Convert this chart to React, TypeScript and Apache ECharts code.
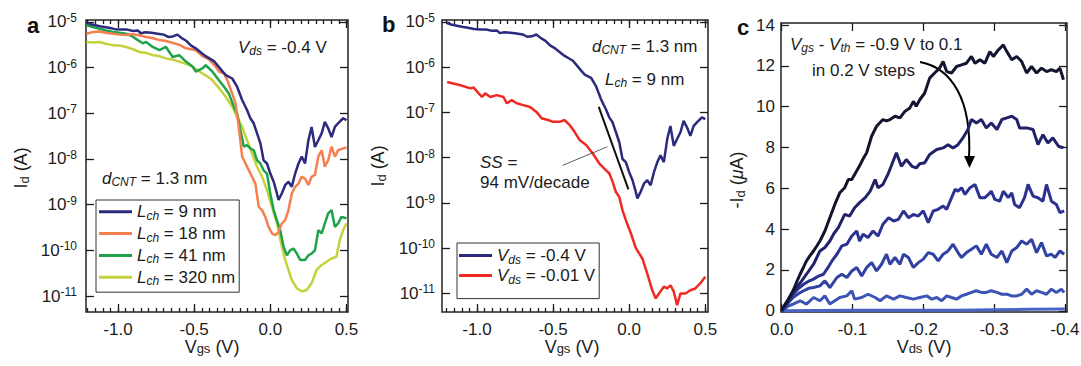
import React, { useEffect, useRef } from 'react';
import * as echarts from 'echarts';

const FONT = '"Liberation Sans", Arial, Helvetica, sans-serif';

// ---------- Panel a: log10(I_d / A) vs V_gs (V), V_ds = -0.4 V ----------
const lch9: [number, number][] = [
  [-1.2, -5.02], [-1.17, -5.06], [-1.14, -5.08], [-1.1, -5.11], [-1.06, -5.13], [-1.02, -5.16], [-0.98, -5.17],
  [-0.94, -5.17], [-0.9, -5.2], [-0.87, -5.19], [-0.85, -5.25], [-0.82, -5.23], [-0.78, -5.24], [-0.74, -5.26],
  [-0.7, -5.28], [-0.67, -5.33], [-0.64, -5.32], [-0.61, -5.28], [-0.58, -5.36], [-0.55, -5.42], [-0.52, -5.52],
  [-0.49, -5.58], [-0.46, -5.66], [-0.43, -5.74], [-0.4, -5.8], [-0.37, -5.86], [-0.34, -5.98], [-0.31, -6.1],
  [-0.29, -6.17], [-0.25, -6.24], [-0.218, -6.42], [-0.185, -6.71], [-0.153, -6.93], [-0.131, -7.11],
  [-0.109, -7.22], [-0.087, -7.44], [-0.065, -7.66], [-0.044, -8.03], [-0.022, -8.1], [0, -8.32], [0.022, -8.5],
  [0.043, -8.75], [0.054, -8.9], [0.076, -8.75], [0.098, -8.57], [0.119, -8.5], [0.141, -8.61], [0.163, -8.32],
  [0.185, -8.1], [0.206, -7.95], [0.228, -8.1], [0.25, -7.59], [0.271, -7.3], [0.293, -7.74], [0.315, -7.59],
  [0.337, -7.44], [0.358, -7.19], [0.38, -7.33], [0.402, -7.52], [0.424, -7.3], [0.445, -7.22], [0.478, -7.11],
  [0.5, -7.15],
];
const lch18: [number, number][] = [
  [-1.207, -5.26], [-1.16, -5.22], [-1.12, -5.21], [-1.08, -5.24], [-1.033, -5.26], [-0.99, -5.28], [-0.946, -5.29],
  [-0.91, -5.27], [-0.87, -5.29], [-0.815, -5.33], [-0.77, -5.36], [-0.728, -5.4], [-0.685, -5.42], [-0.641, -5.46],
  [-0.6, -5.5], [-0.554, -5.58], [-0.52, -5.6], [-0.489, -5.62], [-0.446, -5.75], [-0.402, -5.82], [-0.359, -5.98],
  [-0.337, -6.09], [-0.304, -6.13], [-0.282, -6.28], [-0.25, -6.57], [-0.228, -6.79], [-0.207, -7.3],
  [-0.185, -7.95], [-0.163, -8.1], [-0.141, -8.25], [-0.12, -8.39], [-0.098, -8.54], [-0.076, -9.05],
  [-0.054, -9.12], [-0.033, -9.27], [-0.011, -9.49], [0.011, -9.63], [0.033, -9.67], [0.054, -9.6], [0.076, -9.41],
  [0.098, -9.34], [0.119, -9.12], [0.141, -8.76], [0.163, -8.61], [0.185, -8.54], [0.206, -8.39], [0.228, -8.43],
  [0.25, -8.57], [0.271, -8.39], [0.293, -8.35], [0.315, -7.95], [0.337, -7.81], [0.358, -8.17], [0.38, -8.03],
  [0.402, -7.73], [0.424, -7.95], [0.445, -7.81], [0.478, -7.77], [0.5, -7.75],
];
const lch41: [number, number][] = [
  [-1.207, -5.07], [-1.16, -5.12], [-1.12, -5.15], [-1.08, -5.19], [-1.033, -5.22], [-0.99, -5.24], [-0.946, -5.26],
  [-0.9, -5.33], [-0.87, -5.4], [-0.837, -5.47], [-0.815, -5.44], [-0.772, -5.55], [-0.728, -5.62], [-0.685, -5.55],
  [-0.641, -5.77], [-0.598, -5.73], [-0.554, -5.87], [-0.511, -5.98], [-0.489, -6.09], [-0.446, -6.02],
  [-0.424, -5.95], [-0.38, -6.09], [-0.337, -6.28], [-0.304, -6.42], [-0.272, -6.57], [-0.239, -6.86],
  [-0.218, -7.0], [-0.196, -7.37], [-0.174, -7.73], [-0.153, -7.7], [-0.131, -7.77], [-0.109, -7.81],
  [-0.087, -8.03], [-0.065, -8.1], [-0.044, -8.25], [-0.022, -8.32], [0, -8.76], [0.022, -9.12], [0.043, -9.34],
  [0.065, -9.56], [0.087, -9.92], [0.109, -10.11], [0.13, -10.0], [0.152, -9.96], [0.174, -10.07], [0.196, -10.21],
  [0.228, -10.21], [0.25, -10.11], [0.271, -10.07], [0.293, -10.0], [0.315, -9.56], [0.337, -9.63], [0.358, -9.41],
  [0.38, -9.19], [0.402, -9.12], [0.424, -9.49], [0.445, -9.41], [0.467, -9.27], [0.5, -9.3],
];
const lch320: [number, number][] = [
  [-1.207, -5.44], [-1.16, -5.45], [-1.12, -5.44], [-1.08, -5.48], [-1.033, -5.51], [-0.99, -5.52], [-0.946, -5.55],
  [-0.9, -5.6], [-0.859, -5.66], [-0.815, -5.68], [-0.772, -5.73], [-0.73, -5.75], [-0.685, -5.8], [-0.64, -5.83],
  [-0.598, -5.87], [-0.555, -5.92], [-0.511, -5.98], [-0.48, -6.05], [-0.446, -6.13], [-0.41, -6.2],
  [-0.38, -6.28], [-0.337, -6.45], [-0.293, -6.64], [-0.25, -6.86], [-0.218, -7.08], [-0.185, -7.3],
  [-0.153, -7.59], [-0.12, -7.88], [-0.087, -8.17], [-0.054, -8.39], [-0.022, -8.68], [0.011, -9.05],
  [0.043, -9.41], [0.076, -9.92], [0.098, -10.21], [0.119, -10.43], [0.141, -10.65], [0.174, -10.83],
  [0.206, -10.9], [0.239, -10.87], [0.271, -10.72], [0.304, -10.43], [0.337, -10.32], [0.369, -10.25],
  [0.402, -10.18], [0.434, -10.14], [0.456, -9.78], [0.478, -9.56], [0.5, -9.41],
];

// ---------- Panel b: L_ch = 9 nm at two V_ds ----------
const vds04: [number, number][] = lch9;
const vds001: [number, number][] = [
  [-1.196, -6.33], [-1.109, -6.4], [-1.043, -6.47], [-1.022, -6.45], [-0.989, -6.58], [-0.967, -6.66],
  [-0.946, -6.58], [-0.913, -6.66], [-0.87, -6.62], [-0.826, -6.66], [-0.804, -6.8], [-0.772, -6.73],
  [-0.739, -6.8], [-0.696, -6.84], [-0.652, -6.88], [-0.609, -6.99], [-0.576, -7.13], [-0.533, -7.17],
  [-0.5, -7.21], [-0.457, -7.21], [-0.424, -7.17], [-0.391, -7.28], [-0.359, -7.43], [-0.326, -7.61],
  [-0.283, -7.72], [-0.239, -7.91], [-0.196, -8.13], [-0.152, -8.28], [-0.13, -8.35], [-0.109, -8.53],
  [-0.087, -8.76], [-0.065, -8.87], [-0.044, -9.16], [-0.022, -9.38], [0.011, -9.67], [0.044, -10.0],
  [0.087, -10.23], [0.119, -10.56], [0.152, -10.93], [0.174, -11.11], [0.196, -11.0], [0.228, -10.85],
  [0.25, -10.89], [0.272, -10.82], [0.293, -10.96], [0.315, -11.26], [0.337, -11.0], [0.37, -11.0],
  [0.402, -10.93], [0.435, -10.89], [0.467, -10.78], [0.5, -10.63],
];
const ssFit: [number, number][] = [[-0.2, -6.88], [-0.005, -8.7]];
const ssPointer: [number, number][] = [[-0.437, -8.17], [-0.143, -7.76]];

// ---------- Panel c: -I_d (uA) vs V_ds (V) ----------
const vgsM09: [number, number][] = [
  [0, 0], [-0.002, 0.17], [-0.009, 0.55], [-0.016, 0.98], [-0.021, 1.4], [-0.026, 1.79], [-0.031, 2.15],
  [-0.035, 2.44], [-0.04, 2.7], [-0.045, 2.93], [-0.05, 3.2], [-0.054, 3.42], [-0.061, 3.91], [-0.068, 4.56],
  [-0.075, 5.21], [-0.082, 5.78], [-0.089, 6.03], [-0.094, 6.43], [-0.099, 6.43], [-0.103, 6.68], [-0.11, 7.1],
  [-0.115, 7.45], [-0.12, 7.74], [-0.127, 8.55], [-0.134, 9.04], [-0.143, 9.37], [-0.148, 9.3], [-0.153, 9.37],
  [-0.16, 9.53], [-0.167, 9.45], [-0.174, 9.77], [-0.181, 9.94], [-0.186, 10.26], [-0.19, 10.02], [-0.195, 10.34],
  [-0.202, 10.67], [-0.209, 11.4], [-0.216, 11.65], [-0.223, 11.89], [-0.228, 12.21], [-0.233, 11.72],
  [-0.24, 11.65], [-0.247, 11.97], [-0.254, 12.05], [-0.261, 12.13], [-0.268, 12.46], [-0.273, 12.13],
  [-0.28, 12.3], [-0.287, 12.13], [-0.294, 12.7], [-0.299, 12.46], [-0.306, 12.78], [-0.313, 13.03],
  [-0.318, 12.7], [-0.325, 12.3], [-0.332, 12.46], [-0.339, 12.21], [-0.346, 11.65], [-0.353, 11.97],
  [-0.36, 11.65], [-0.367, 11.89], [-0.374, 11.72], [-0.381, 11.81], [-0.388, 11.72], [-0.393, 11.89],
  [-0.398, 11.32],
];
const vgsM07: [number, number][] = [
  [0, 0], [-0.008, 0.45], [-0.015, 0.85], [-0.021, 1.14], [-0.028, 1.45], [-0.035, 1.79], [-0.045, 2.28],
  [-0.054, 2.93], [-0.061, 3.1], [-0.068, 3.42], [-0.074, 3.8], [-0.08, 4.07], [-0.089, 4.72], [-0.096, 4.64],
  [-0.103, 5.05], [-0.11, 5.3], [-0.118, 5.54], [-0.125, 5.86], [-0.132, 6.43], [-0.136, 6.03], [-0.143, 6.19],
  [-0.15, 6.68], [-0.155, 7.12], [-0.162, 7.74], [-0.169, 7.08], [-0.176, 7.41], [-0.184, 7.08], [-0.19, 7.0],
  [-0.195, 7.2], [-0.202, 7.25], [-0.209, 7.66], [-0.219, 7.9], [-0.228, 7.98], [-0.235, 8.14], [-0.242, 7.98],
  [-0.249, 8.14], [-0.256, 8.47], [-0.263, 8.88], [-0.268, 9.37], [-0.275, 9.2], [-0.282, 9.37], [-0.289, 8.96],
  [-0.296, 9.2], [-0.304, 8.88], [-0.311, 9.37], [-0.318, 9.45], [-0.325, 9.53], [-0.332, 9.37], [-0.336, 8.96],
  [-0.346, 8.96], [-0.355, 8.88], [-0.362, 8.14], [-0.369, 8.63], [-0.376, 8.22], [-0.383, 8.47], [-0.391, 8.06],
  [-0.398, 7.98],
];
const vgsM05: [number, number][] = [
  [0, 0], [-0.008, 0.35], [-0.016, 0.81], [-0.024, 1.1], [-0.031, 1.3], [-0.038, 1.45], [-0.045, 1.55],
  [-0.052, 1.7], [-0.059, 1.79], [-0.065, 2.1], [-0.071, 2.44], [-0.078, 2.77], [-0.085, 3.18], [-0.092, 3.26],
  [-0.099, 3.66], [-0.106, 3.91], [-0.11, 3.42], [-0.115, 3.75], [-0.122, 3.59], [-0.129, 3.91], [-0.136, 3.66],
  [-0.143, 4.24], [-0.151, 4.56], [-0.158, 4.4], [-0.165, 4.48], [-0.172, 4.89], [-0.179, 4.56], [-0.186, 4.72],
  [-0.193, 4.64], [-0.2, 4.9], [-0.207, 4.32], [-0.214, 4.89], [-0.221, 4.97], [-0.228, 5.13], [-0.233, 4.97],
  [-0.24, 5.54], [-0.245, 5.95], [-0.249, 5.86], [-0.254, 6.03], [-0.259, 5.7], [-0.266, 6.03], [-0.273, 6.19],
  [-0.28, 5.54], [-0.287, 5.54], [-0.292, 5.7], [-0.296, 5.86], [-0.301, 5.46], [-0.308, 5.37], [-0.313, 5.86],
  [-0.32, 5.54], [-0.325, 5.78], [-0.329, 5.21], [-0.336, 5.05], [-0.343, 5.54], [-0.348, 6.19], [-0.355, 5.62],
  [-0.362, 5.54], [-0.369, 5.37], [-0.374, 6.19], [-0.381, 5.37], [-0.388, 5.21], [-0.393, 4.81], [-0.399, 4.89],
];
const vgsM03: [number, number][] = [
  [0, 0], [-0.008, 0.35], [-0.016, 0.65], [-0.024, 0.85], [-0.031, 0.98], [-0.038, 1.1], [-0.045, 1.14],
  [-0.054, 1.22], [-0.061, 1.47], [-0.068, 1.14], [-0.078, 1.63], [-0.085, 1.79], [-0.092, 1.63], [-0.099, 1.95],
  [-0.106, 2.12], [-0.113, 1.71], [-0.12, 2.12], [-0.127, 2.36], [-0.134, 1.95], [-0.141, 2.28], [-0.148, 2.77],
  [-0.153, 2.28], [-0.16, 2.61], [-0.167, 2.28], [-0.172, 2.77], [-0.179, 2.61], [-0.186, 2.12], [-0.193, 2.36],
  [-0.2, 2.53], [-0.207, 2.85], [-0.214, 2.77], [-0.221, 2.44], [-0.228, 2.77], [-0.235, 2.93], [-0.242, 3.26],
  [-0.249, 2.85], [-0.254, 2.61], [-0.261, 2.85], [-0.268, 3.01], [-0.275, 3.18], [-0.282, 2.77], [-0.289, 3.26],
  [-0.296, 2.77], [-0.304, 2.61], [-0.311, 2.93], [-0.318, 2.36], [-0.325, 2.93], [-0.332, 3.1], [-0.339, 3.42],
  [-0.346, 3.26], [-0.353, 3.5], [-0.36, 2.85], [-0.367, 3.34], [-0.374, 2.69], [-0.381, 2.77], [-0.386, 2.61],
  [-0.393, 2.93], [-0.399, 2.77],
];
const vgsM01: [number, number][] = [
  [0, 0], [-0.008, 0.2], [-0.016, 0.33], [-0.026, 0.49], [-0.035, 0.33], [-0.045, 0.65], [-0.054, 0.49],
  [-0.061, 0.73], [-0.068, 0.33], [-0.075, 0.49], [-0.082, 0.65], [-0.092, 0.73], [-0.099, 0.98], [-0.103, 0.57],
  [-0.113, 0.65], [-0.122, 0.81], [-0.132, 0.65], [-0.139, 0.49], [-0.148, 0.73], [-0.158, 0.57], [-0.167, 0.73],
  [-0.176, 0.65], [-0.186, 0.57], [-0.195, 0.65], [-0.205, 0.73], [-0.212, 0.57], [-0.219, 0.65], [-0.226, 0.49],
  [-0.233, 0.73], [-0.24, 0.65], [-0.247, 0.57], [-0.254, 0.73], [-0.261, 0.81], [-0.268, 0.9], [-0.275, 0.98],
  [-0.282, 0.9], [-0.289, 0.9], [-0.296, 0.98], [-0.304, 0.9], [-0.311, 0.81], [-0.318, 0.81], [-0.325, 0.73],
  [-0.332, 0.73], [-0.339, 0.81], [-0.346, 1.06], [-0.353, 0.81], [-0.36, 0.98], [-0.367, 0.9], [-0.374, 0.81],
  [-0.381, 1.06], [-0.388, 0.9], [-0.395, 1.06], [-0.399, 0.9],
];
const vgsP01: [number, number][] = [
  [0, 0], [-0.05, 0.01], [-0.1, 0.02], [-0.15, 0.02], [-0.2, 0.03], [-0.25, 0.03], [-0.3, 0.05], [-0.35, 0.07], [-0.4, 0.09],
];

// ---------- Ticks ----------
const xMajorAB = [-1.0, -0.5, 0.0, 0.5];
const xMinorAB = [
  -1.2, -1.15, -1.1, -1.05, -1.0, -0.95, -0.9, -0.85, -0.8, -0.75, -0.7, -0.65, -0.6, -0.55, -0.5, -0.45, -0.4,
  -0.35, -0.3, -0.25, -0.2, -0.15, -0.1, -0.05, 0.0, 0.05, 0.1, 0.15, 0.2, 0.25, 0.3, 0.35, 0.4, 0.45, 0.5,
];
const yDecades = [-11, -10, -9, -8, -7, -6, -5];
const xMajorC = [0.0, -0.1, -0.2, -0.3, -0.4];
const yMajorC = [0, 2, 4, 6, 8, 10, 12, 14];

const INK = '#1c1c1c';
const tickLine = { color: INK, width: 1.3 };

function richOpt(size: number, sub: number) {
  return {
    n: { fontFamily: FONT, fontSize: size, lineHeight: 20, color: INK },
    i: { fontFamily: FONT, fontSize: size, lineHeight: 20, fontStyle: 'italic', color: INK },
    s: { fontFamily: FONT, fontSize: sub, lineHeight: 9, fontStyle: 'italic', verticalAlign: 'bottom', color: INK },
  };
}
function richGfx(size: number, sub: number, lh = 20, subLh = 9) {
  return {
    n: { fontFamily: FONT, fontSize: size, lineHeight: lh, fill: INK },
    i: { fontFamily: FONT, fontSize: size, lineHeight: lh, fontStyle: 'italic', fill: INK },
    s: { fontFamily: FONT, fontSize: sub, lineHeight: subLh, fontStyle: 'italic', verticalAlign: 'bottom', fill: INK },
    u: { fontFamily: FONT, fontSize: sub, lineHeight: subLh, verticalAlign: 'bottom', fill: INK },
  };
}

const tickLabelRich = {
  b: { fontFamily: FONT, fontSize: 17, lineHeight: 20, color: INK },
  p: { fontFamily: FONT, fontSize: 12, lineHeight: 9, verticalAlign: 'top', color: INK },
};

function xAxesFor(grid: number, min: number, max: number, majors: number[], minors: number[] | null,
  fmt: (v: number) => string, inverse = false) {
  const base = { gridIndex: grid, type: 'value', min, max, inverse, axisLine: { show: false, onZero: false }, splitLine: { show: false } };
  const axes: any[] = [
    { ...base, position: 'bottom',
      axisTick: { show: true, inside: true, length: 8, customValues: majors, lineStyle: tickLine },
      axisLabel: { show: true, customValues: majors, formatter: fmt, margin: 11, fontFamily: FONT, fontSize: 17, lineHeight: 13, color: INK } },
    { ...base, position: 'top',
      axisTick: { show: true, inside: true, length: 8, customValues: majors, lineStyle: tickLine },
      axisLabel: { show: false } },
  ];
  if (minors) {
    axes.push({ ...base, position: 'bottom',
      axisTick: { show: true, inside: true, length: 4, customValues: minors, lineStyle: tickLine }, axisLabel: { show: false } });
    axes.push({ ...base, position: 'top',
      axisTick: { show: true, inside: true, length: 4, customValues: minors, lineStyle: tickLine }, axisLabel: { show: false } });
  }
  return axes;
}
function yAxesFor(grid: number, min: number, max: number, majors: number[], fmt: any, margin: number, rich?: any) {
  const base = { gridIndex: grid, type: 'value', min, max, axisLine: { show: false, onZero: false }, splitLine: { show: false } };
  return [
    { ...base, position: 'left',
      axisTick: { show: true, inside: true, length: 8, customValues: majors, lineStyle: tickLine },
      axisLabel: { show: true, customValues: majors, formatter: fmt, margin, fontFamily: FONT, fontSize: 17, color: INK, rich } },
    { ...base, position: 'right',
      axisTick: { show: true, inside: true, length: 8, customValues: majors, lineStyle: tickLine },
      axisLabel: { show: false } },
  ];
}

const fmt1 = (v: number) => (Math.abs(v) < 1e-9 ? '0.0' : v.toFixed(1));
const fmtDec = (v: number) => `{b|10}{p|${Math.round(v)}}`;
const fmtInt = (v: number) => String(Math.round(v));

function line(name: string, data: [number, number][], xi: number, yi: number, color: string, width: number, z = 2) {
  return {
    type: 'line', name, data, xAxisIndex: xi, yAxisIndex: yi, symbol: 'none', showSymbol: false,
    color, itemStyle: { color }, lineStyle: { color, width }, z, silent: true, clip: true,
  };
}

const NAVY = '#2b2a7c';
const ORANGE = '#f57f4e';
const GREEN = '#1fa34a';
const YELLOW = '#c6d23c';
const RED = '#ee2a22';

const legendNames: Record<string, string> = {
  L9: '{i|L}{s|ch}{n| = 9 nm}',
  L18: '{i|L}{s|ch}{n| = 18 nm}',
  L41: '{i|L}{s|ch}{n| = 41 nm}',
  L320: '{i|L}{s|ch}{n| = 320 nm}',
  V04: '{i|V}{s|ds}{n| = -0.4 V}',
  V001: '{i|V}{s|ds}{n| = -0.01 V}',
};

function gText(x: number, y: number, text: string, size = 17, extra: any = {}) {
  const { align, lh, subLh, ...rest } = extra;
  return {
    type: 'text', x, y, silent: true, ...rest,
    style: { text, rich: richGfx(size, Math.round(size * 0.72), lh || 20, subLh || 9), fontFamily: FONT, fontSize: size, fill: INK,
      align: align || 'left', verticalAlign: 'middle' },
  };
}

const option: any = {
  animation: false,
  backgroundColor: '#fff',
  grid: [
    { left: 86, top: 20, width: 262, height: 292, show: true, borderColor: '#222', borderWidth: 1.5, containLabel: false, outerBoundsMode: 'none' },
    { left: 442, top: 20, width: 266, height: 292, show: true, borderColor: '#222', borderWidth: 1.5, containLabel: false, outerBoundsMode: 'none' },
    { left: 781, top: 23, width: 286, height: 289, show: true, borderColor: '#222', borderWidth: 1.5, containLabel: false, outerBoundsMode: 'none' },
  ],
  xAxis: [
    ...xAxesFor(0, -1.21, 0.51, xMajorAB, xMinorAB, fmt1),
    ...xAxesFor(1, -1.23, 0.518, xMajorAB, xMinorAB, fmt1),
    ...xAxesFor(2, -0.403, 0.001, xMajorC, null, fmt1, true),
  ],
  yAxis: [
    ...yAxesFor(0, -11.35, -4.96, yDecades, fmtDec, 9, tickLabelRich),
    ...yAxesFor(1, -11.41, -4.96, yDecades, fmtDec, 7, tickLabelRich),
    ...yAxesFor(2, -0.06, 14.1, yMajorC, fmtInt, 6),
  ],
  legend: [
    { orient: 'vertical', left: 96, top: 200, data: ['L9', 'L18', 'L41', 'L320'], icon: 'rect', itemWidth: 33, itemHeight: 3,
      itemGap: 3.3, padding: [3.3, 4, 5, 3], borderColor: '#333', borderWidth: 1, backgroundColor: '#fff',
      selectedMode: false, formatter: (n: string) => legendNames[n],
      textStyle: { fontFamily: FONT, fontSize: 17, color: INK, rich: richOpt(17, 12) } },
    { orient: 'vertical', left: 457, top: 243, data: ['V04', 'V001'], icon: 'rect', itemWidth: 33, itemHeight: 3,
      itemGap: 1.6, padding: [4, 4, 13, 2], borderColor: '#333', borderWidth: 1, backgroundColor: '#fff',
      selectedMode: false, formatter: (n: string) => legendNames[n],
      textStyle: { fontFamily: FONT, fontSize: 17, color: INK, rich: richOpt(17, 12) } },
  ],
  series: [
    // panel a (x axis 0, y axis 0)
    line('L320', lch320, 0, 0, YELLOW, 2.5),
    line('L41', lch41, 0, 0, GREEN, 2.5),
    line('L18', lch18, 0, 0, ORANGE, 2.5),
    line('L9', lch9, 0, 0, NAVY, 2.5),
    // panel b (x axis 4, y axis 2)
    line('V001', vds001, 4, 2, RED, 2.5),
    line('V04', vds04, 4, 2, NAVY, 2.5),
    line('ssFit', ssFit, 4, 2, '#111', 2, 3),
    line('ssPointer', ssPointer, 4, 2, '#333', 0.8, 3),
    // panel c (x axis 8, y axis 4)
    line('g6', vgsP01, 8, 4, '#4a64c6', 3),
    line('g5', vgsM01, 8, 4, '#3c55b4', 3),
    line('g4', vgsM03, 8, 4, '#3142a2', 3),
    line('g3', vgsM05, 8, 4, '#2b3291', 3),
    line('g2', vgsM07, 8, 4, '#22226a', 3),
    line('g1', vgsM09, 8, 4, '#131530', 3),
  ],
  graphic: [
    // panel letters
    { type: 'text', x: 27, y: 25, silent: true, style: { text: 'a', fontFamily: FONT, fontSize: 22, fontWeight: 'bold', fill: '#111', align: 'left', verticalAlign: 'middle' } },
    { type: 'text', x: 382, y: 24, silent: true, style: { text: 'b', fontFamily: FONT, fontSize: 22, fontWeight: 'bold', fill: '#111', align: 'left', verticalAlign: 'middle' } },
    { type: 'text', x: 737, y: 27, silent: true, style: { text: 'c', fontFamily: FONT, fontSize: 22, fontWeight: 'bold', fill: '#111', align: 'left', verticalAlign: 'middle' } },
    // axis titles
    gText(212, 347, '{n|V}{u|gs}{n| (V)}', 18, { align: 'center', lh: 15, subLh: 3 }),
    gText(572, 347, '{n|V}{u|gs}{n| (V)}', 18, { align: 'center', lh: 15, subLh: 3 }),
    gText(924, 347, '{n|V}{u|ds}{n| (V)}', 18, { align: 'center', lh: 15, subLh: 3 }),
    gText(21, 168, '{n|I}{u|d}{n| (A)}', 18, { align: 'center', rotation: Math.PI / 2 }),
    gText(378, 166, '{n|I}{u|d}{n| (A)}', 18, { align: 'center', rotation: Math.PI / 2 }),
    gText(737, 180, '{n|-I}{u|d}{n| (}{i|μ}{n|A)}', 18, { align: 'center', rotation: Math.PI / 2 }),
    // annotations panel a
    gText(238, 47, '{i|V}{s|ds}{n| = -0.4 V}'),
    gText(102, 178, '{i|d}{s|CNT}{n| = 1.3 nm}'),
    // annotations panel b
    gText(592, 46, '{i|d}{s|CNT}{n| = 1.3 nm}'),
    gText(605, 79, '{i|L}{s|ch}{n| = 9 nm}'),
    gText(480, 162, '{i|SS}{n| =}'),
    gText(480, 182, '{n|94 mV/decade}'),
    // annotations panel c
    gText(790, 44, '{i|V}{s|gs}{n| - }{i|V}{s|th}{n| = -0.9 V to 0.1}'),
    gText(812, 70, '{n|in 0.2 V steps}'),
    { type: 'bezierCurve', silent: true,
      shape: { x1: 920, y1: 62, cpx1: 952, cpy1: 68, cpx2: 972, cpy2: 100, x2: 969, y2: 158 },
      style: { stroke: '#000', lineWidth: 2, fill: null } },
    { type: 'polygon', silent: true, shape: { points: [[964, 156], [975, 156], [969.5, 168]] }, style: { fill: '#000' } },
  ],
};

export default function App() {
  const ref = useRef<HTMLDivElement>(null);
  useEffect(() => {
    const chart = echarts.init(ref.current as HTMLDivElement, null, { renderer: 'svg' });
    chart.setOption(option);
    return () => chart.dispose();
  }, []);
  return (
    <div
      ref={ref}
      style={{ position: 'absolute', left: 0, top: 0, width: 1081, height: 366, background: '#fff' }}
    />
  );
}
